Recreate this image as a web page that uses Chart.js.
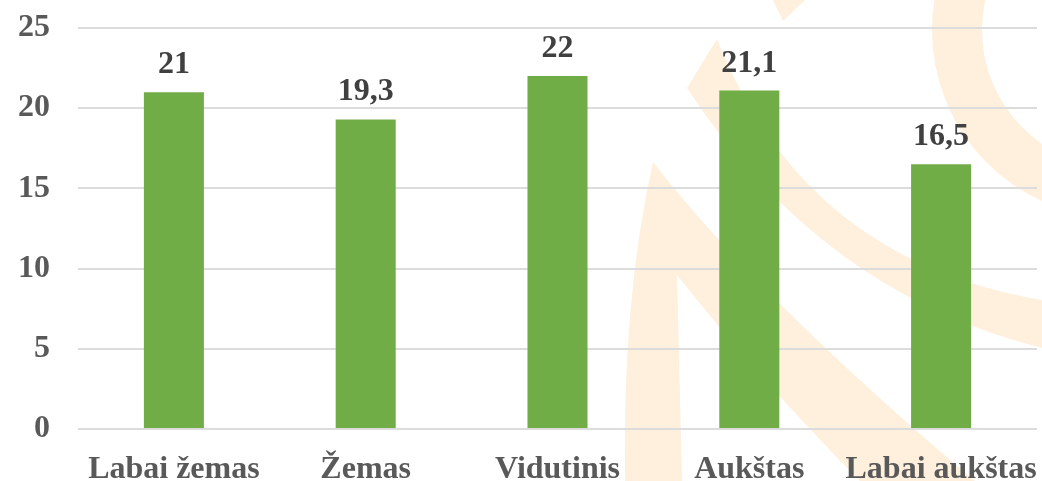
<!DOCTYPE html>
<html><head><meta charset="utf-8">
<script src="https://cdn.jsdelivr.net/npm/chart.js@4/dist/chart.umd.min.js"></script>
<style>html,body{margin:0;padding:0;background:#fff;overflow:hidden}#wrap{width:1042px;height:481px;position:relative}</style>
</head><body><div id="wrap"><canvas id="c"></canvas></div>
<script>
const categories = ['Labai žemas', 'Žemas', 'Vidutinis', 'Aukštas', 'Labai aukštas'];
const values = [21, 19.3, 22, 21.1, 16.5];
const yMin = 0, yMax = 25, yStep = 5;

const FONT = '"Liberation Serif", "Times New Roman", serif';

// decorative background watermark (not data)
const watermark = {
  id: 'watermark',
  beforeDraw(chart) {
    const ctx = chart.ctx;
    ctx.save();
    ctx.fillStyle = '#FEF0DC';
    ctx.strokeStyle = '#FEF0DC';
    ctx.lineWidth = 50;
    ctx.beginPath();
    ctx.arc(1120, 30, 163, 0, Math.PI * 2);
    ctx.stroke();
    ctx.beginPath();
    ctx.moveTo(717, 39);
    ctx.quadraticCurveTo(804, 260, 1042, 300);
    ctx.lineTo(1042, 348);
    ctx.quadraticCurveTo(820, 292, 687, 88);
    ctx.closePath();
    ctx.fill();
    ctx.beginPath();
    ctx.moveTo(625, 481);
    ctx.quadraticCurveTo(622, 300, 653, 162);
    ctx.quadraticCurveTo(760, 300, 975, 481);
    ctx.lineTo(860, 481);
    ctx.quadraticCurveTo(760, 380, 677, 275);
    ctx.lineTo(682, 481);
    ctx.closePath();
    ctx.fill();
    ctx.beginPath();
    ctx.moveTo(773, 0);
    ctx.lineTo(805, 0);
    ctx.lineTo(783, 21);
    ctx.closePath();
    ctx.fill();
    ctx.restore();
  }
};

const valueLabels = {
  id: 'valueLabels',
  afterDatasetsDraw(chart) {
    const ctx = chart.ctx;
    const meta = chart.getDatasetMeta(0);
    ctx.save();
    ctx.font = 'bold 32px ' + FONT;
    ctx.fillStyle = '#404040';
    ctx.textAlign = 'center';
    ctx.textBaseline = 'alphabetic';
    meta.data.forEach((bar, i) => {
      const txt = String(values[i]).replace('.', ',');
      ctx.fillText(txt, bar.x, bar.y - 19);
    });
    ctx.restore();
  }
};

function zeroPad(s) { s.paddingLeft = 0; s.paddingRight = 0; s.paddingTop = 0; s.paddingBottom = 0; }

new Chart(document.getElementById('c'), {
  type: 'bar',
  data: {
    labels: categories,
    datasets: [{
      data: values,
      backgroundColor: '#70AD47',
      borderWidth: 0,
      categoryPercentage: 1,
      barPercentage: 0.313
    }]
  },
  options: {
    responsive: true,
    maintainAspectRatio: false,
    animation: false,
    events: [],
    layout: { padding: { left: 18, right: 5, top: 28, bottom: 0 } },
    plugins: { legend: { display: false }, tooltip: { enabled: false } },
    scales: {
      x: {
        grid: { display: false },
        border: { display: false },
        afterFit: s => { s.height = 52; zeroPad(s); },
        ticks: {
          color: '#595959',
          font: { family: FONT, size: 32, weight: 'bold', lineHeight: 1 },
          padding: 17,
          maxRotation: 0,
          minRotation: 0,
          autoSkip: false
        }
      },
      y: {
        min: yMin, max: yMax,
        grid: { color: '#dcdcdc', lineWidth: 2, drawTicks: false },
        border: { display: false },
        afterFit: s => { s.width = 60; zeroPad(s); },
        ticks: {
          stepSize: yStep,
          color: '#595959',
          font: { family: FONT, size: 32, weight: 'bold' },
          padding: 28
        }
      }
    }
  },
  plugins: [watermark, valueLabels]
});
</script>
</body></html>
